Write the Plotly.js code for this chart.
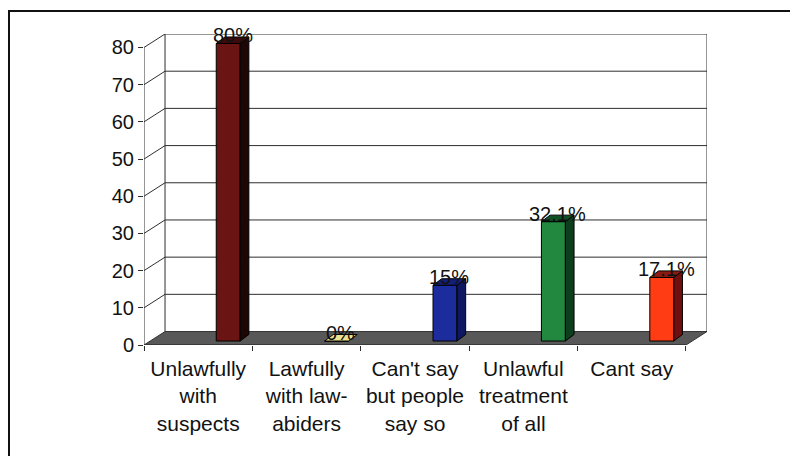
<!DOCTYPE html>
<html>
<head>
<meta charset="utf-8">
<script src="https://cdn.plot.ly/plotly-3.0.1.min.js"></script>
<style>
  html, body { margin: 0; padding: 0; background: #ffffff; }
  #chart { width: 790px; height: 456px; }
</style>
</head>
<body>
<div id="chart"></div>
<script>
// Survey answers and their shares (percent)
const categories = [
  'Unlawfully<br>with<br>suspects',
  'Lawfully<br>with law-<br>abiders',
  "Can't say<br>but people<br>say so",
  'Unlawful<br>treatment<br>of all',
  'Cant say'
];
const values = [80, 0, 15, 32.1, 17.1];
const valueLabels = ['80%', '0%', '15%', '32.1%', '17.1%'];
const yTickValues = [0, 10, 20, 30, 40, 50, 60, 70, 80];

// Face colours of the pseudo-3D columns
const frontColors = ['#6b1414', '#e4d878', '#1d2c9c', '#23883f', '#ff3c14'];
const sideColors  = ['#1e0606', '#b0a050', '#0e1762', '#0d3e1d', '#6e1010'];
const topColors   = ['#3c0b0b', '#ece290', '#131f78', '#105024', '#8c1a10'];

// Projection of the 3D box (in axis units)
const DX = 0.194;        // depth shift along x
const DY = 3.62;         // depth shift along y
const BAR_OFF = 0.277;   // front face centre offset from the category centre
const BAR_W = 0.221;     // front face width
const SIDE_DX = 0.08;    // column depth along x
const SIDE_DY = 1.75;    // column depth along y
const BASE = 1.07;       // columns stand slightly behind the front edge
const N = categories.length;
const Y_MAX = 80;

const LINE = '#2e2e2e';
const TEXT = '#121212';
const FONT = 'Liberation Sans, Arial, sans-serif';
const shapes = [];

// floor
shapes.push({
  type: 'path', layer: 'below', xref: 'x', yref: 'y',
  path: `M0,0 L${N},0 L${N + DX},${DY} L${DX},${DY} Z`,
  fillcolor: '#585858', line: { color: '#333333', width: 1 }
});

// back wall gridlines and side-wall diagonals
yTickValues.forEach(v => {
  if (v > 0) {
    shapes.push({ type: 'line', layer: 'below', xref: 'x', yref: 'y',
      x0: DX, y0: v + DY, x1: N + DX, y1: v + DY, line: { color: LINE, width: 1 } });
    shapes.push({ type: 'line', layer: 'below', xref: 'x', yref: 'y',
      x0: 0, y0: v, x1: DX, y1: v + DY, line: { color: LINE, width: 1 } });
  }
});

// wall edges
shapes.push({ type: 'line', layer: 'below', xref: 'x', yref: 'y',
  x0: DX, y0: DY, x1: DX, y1: Y_MAX + DY, line: { color: LINE, width: 1 } });
shapes.push({ type: 'line', layer: 'below', xref: 'x', yref: 'y',
  x0: N + DX, y0: DY, x1: N + DX, y1: Y_MAX + DY, line: { color: LINE, width: 1 } });
// front value axis
shapes.push({ type: 'line', layer: 'above', xref: 'x', yref: 'y',
  x0: 0, y0: 0, x1: 0, y1: Y_MAX, line: { color: LINE, width: 1 } });
// front category axis
shapes.push({ type: 'line', layer: 'above', xref: 'x', yref: 'y',
  x0: 0, y0: 0, x1: N, y1: 0, line: { color: LINE, width: 1 } });

// side and top faces of every column
const barX = categories.map((c, i) => i + 0.5 + BAR_OFF);
values.forEach((v, i) => {
  const xl = barX[i] - BAR_W / 2;
  const xr = barX[i] + BAR_W / 2;
  const yb = BASE;
  const yt = BASE + v;
  if (v > 0) {
    shapes.push({
      type: 'path', layer: 'above', xref: 'x', yref: 'y',
      path: `M${xr},${yb} L${xr + SIDE_DX},${yb + SIDE_DY} L${xr + SIDE_DX},${yt + SIDE_DY} L${xr},${yt} Z`,
      fillcolor: sideColors[i], line: { color: '#000000', width: 1 }
    });
  }
  shapes.push({
    type: 'path', layer: 'above', xref: 'x', yref: 'y',
    path: `M${xl},${yt} L${xl + SIDE_DX},${yt + SIDE_DY} L${xr + SIDE_DX},${yt + SIDE_DY} L${xr},${yt} Z`,
    fillcolor: topColors[i], line: { color: '#000000', width: 1 }
  });
});

// outer chart frame
shapes.push({
  type: 'rect', layer: 'below', xref: 'paper', yref: 'paper',
  x0: -0.2398, y0: -0.40, x1: 1.16, y1: 1.074,
  line: { color: '#111111', width: 2 }, fillcolor: 'rgba(0,0,0,0)'
});

// value labels
const annotations = values.map((v, i) => ({
  xref: 'x', yref: 'y',
  x: barX[i] + SIDE_DX / 2, y: BASE + v,
  text: valueLabels[i], showarrow: false,
  xanchor: 'center', yanchor: 'middle', yshift: 8,
  font: { family: FONT, size: 20, color: TEXT }
}));

const trace = {
  type: 'bar',
  x: barX,
  y: values,
  base: BASE,
  width: BAR_W,
  marker: { color: frontColors, line: { color: '#000000', width: 1 } },
  hoverinfo: 'skip'
};

const layout = {
  width: 790, height: 456,
  margin: { l: 144, r: 83, t: 34, b: 111, pad: 0 },
  paper_bgcolor: '#ffffff',
  plot_bgcolor: 'rgba(0,0,0,0)',
  showlegend: false,
  bargap: 0,
  font: { family: FONT, size: 20, color: TEXT },
  xaxis: {
    range: [0, N + DX],
    tickmode: 'array',
    tickvals: categories.map((c, i) => i + 0.5),
    ticktext: categories,
    ticks: '',
    ticklabelstandoff: 9,
    showgrid: false, zeroline: false, showline: false,
    tickfont: { family: FONT, size: 21, color: TEXT },
    minor: { tickmode: 'linear', tick0: 0, dtick: 1, ticks: 'outside', ticklen: 5, tickcolor: LINE, showgrid: false }
  },
  yaxis: {
    range: [0, Y_MAX + DY],
    tickmode: 'array',
    tickvals: yTickValues,
    ticks: 'outside', ticklen: 5, tickcolor: LINE,
    showgrid: false, zeroline: false, showline: false,
    tickfont: { family: FONT, size: 20, color: TEXT }
  },
  shapes: shapes,
  annotations: annotations
};

Plotly.newPlot('chart', [trace], layout, { staticPlot: true, displayModeBar: false });
</script>
</body>
</html>
